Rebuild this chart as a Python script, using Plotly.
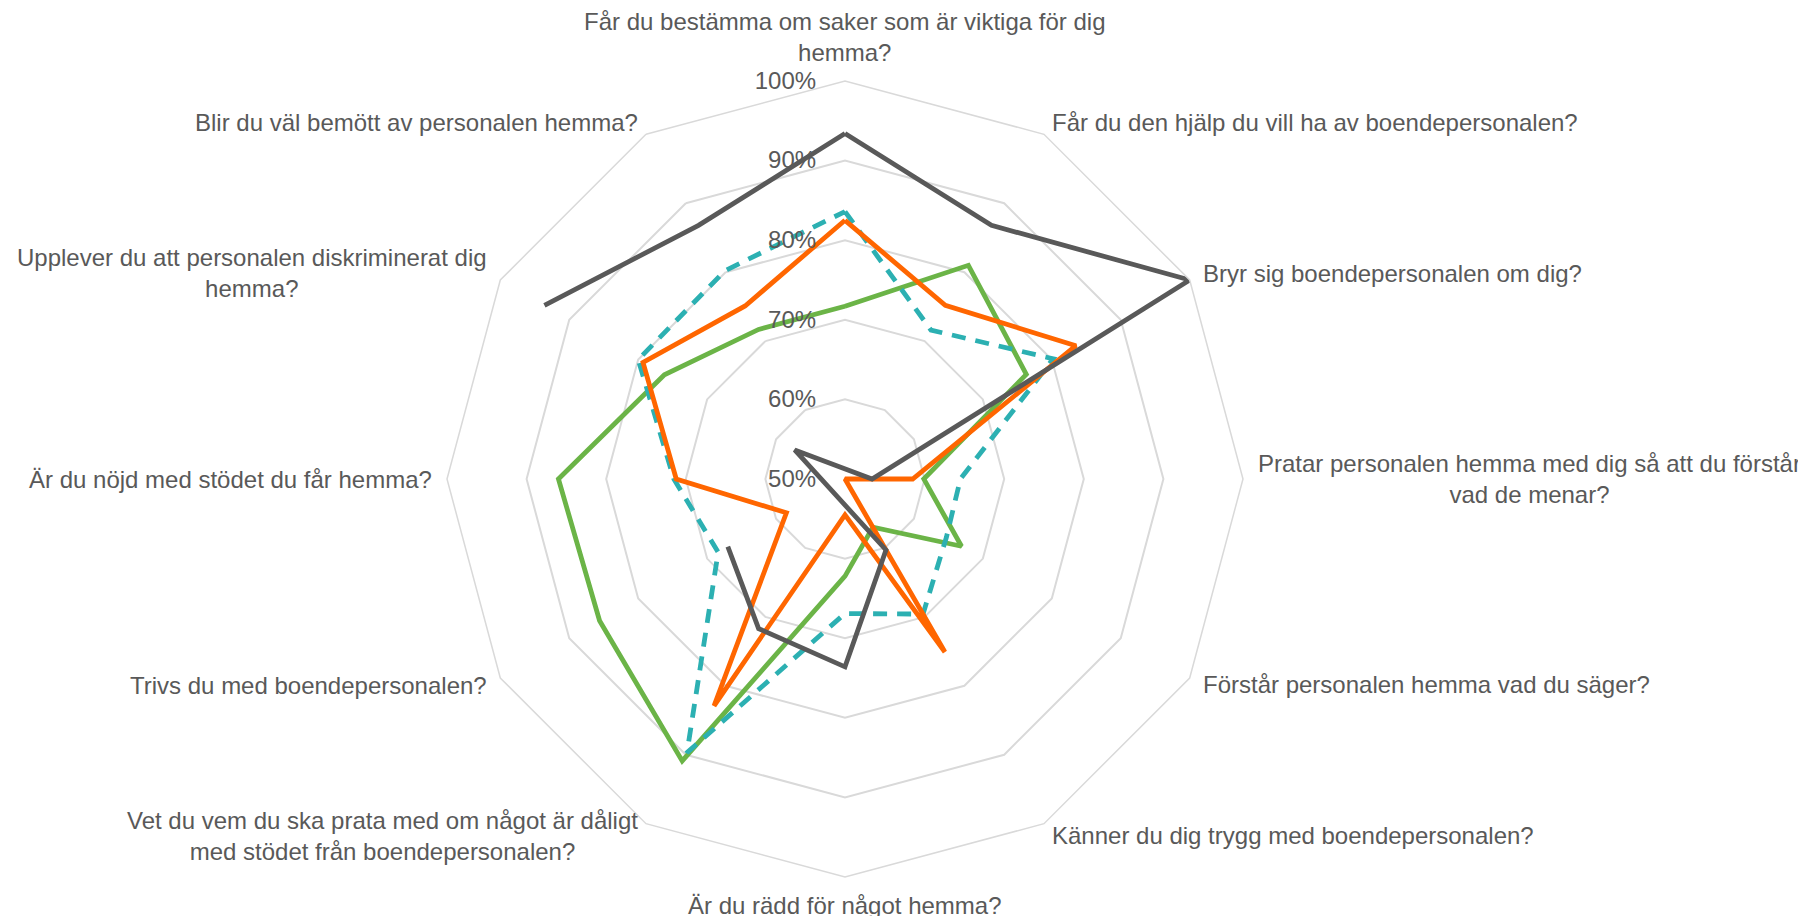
import math
import plotly.graph_objects as go

# ---- data -------------------------------------------------------------
categories = [
    "Får du bestämma om saker som är viktiga för dig hemma?",
    "Får du den hjälp du vill ha av boendepersonalen?",
    "Bryr sig boendepersonalen om dig?",
    "Pratar personalen hemma med dig så att du förstår vad de menar?",
    "Förstår personalen hemma vad du säger?",
    "Känner du dig trygg med boendepersonalen?",
    "Är du rädd för något hemma?",
    "Vet du vem du ska prata med om något är dåligt med stödet från boendepersonalen?",
    "Trivs du med boendepersonalen?",
    "Är du nöjd med stödet du får hemma?",
    "Upplever du att personalen diskriminerat dig hemma?",
    "Blir du väl bemött av personalen hemma?",
]

# the category labels as wrapped in the original
category_labels = [
    "Får du bestämma om saker som är viktiga för dig<br>hemma?",
    "Får du den hjälp du vill ha av boendepersonalen?",
    "Bryr sig boendepersonalen om dig?",
    "Pratar personalen hemma med dig så att du förstår<br>vad de menar?",
    "Förstår personalen hemma vad du säger?",
    "Känner du dig trygg med boendepersonalen?",
    "Är du rädd för något hemma?",
    "Vet du vem du ska prata med om något är dåligt<br>med stödet från boendepersonalen?",
    "Trivs du med boendepersonalen?",
    "Är du nöjd med stödet du får hemma?",
    "Upplever du att personalen diskriminerat dig<br>hemma?",
    "Blir du väl bemött av personalen hemma?",
]

radial_ticks = [50, 60, 70, 80, 90, 100]

# values in percent, clockwise from the top category
green = [71.7, 81.0, 76.3, 59.9, 66.9, 57.0, 62.2, 90.9, 85.6, 86.0, 76.2, 71.7]
teal = [83.6, 71.6, 80.2, 64.5, 64.7, 69.6, 66.9, 89.7, 68.4, 71.5, 80.0, 80.2]
orange = [82.5, 75.2, 83.5, 58.5, 50.0, 75.1, 54.5, 82.9, 58.5, 71.2, 79.3, 75.1]
gray = [93.4, 86.8, 100.0, 53.4, 42.7, 60.3, 73.6, 71.7, 67.0, None, 93.6, 86.8]

AXIS_MIN = 50
AXIS_MAX = 100


def radar_path(values):
    """Closed path; values below the axis minimum are drawn through the
    centre on the opposite spoke (as the original spreadsheet radar does)."""
    n = len(categories)
    thetas, rs = [], []
    for i, v in enumerate(values + values[:1]):
        i = i % n
        if v is None:
            thetas.append(categories[i])
            rs.append(None)
        elif v < AXIS_MIN:
            thetas.append(categories[(i + n // 2) % n])
            rs.append(2 * AXIS_MIN - v)
        else:
            thetas.append(categories[i])
            rs.append(v)
    return thetas, rs


series = [
    ("green", green, "#6BB447", None),
    ("teal", teal, "#2CB0B2", "14px,10px"),
    ("orange", orange, "#FF6600", None),
    ("gray", gray, "#595959", None),
]

fig = go.Figure()
for name, vals, color, dash in series:
    th, r = radar_path(vals)
    line = dict(color=color, width=4.8)
    if dash:
        line["dash"] = dash
    fig.add_trace(go.Scatterpolar(
        r=r, theta=th, mode="lines", name=name, line=line,
        connectgaps=False, hoverinfo="skip",
    ))

W, H = 1806, 916
cx, cy, R = 837, 471, 398
LABEL_GAP = 14
TEXT = "#595959"

# category labels placed just outside each spoke end, aligned like the original
annotations = []
n = len(categories)
for i, label in enumerate(category_labels):
    ang = math.radians(360.0 * i / n)
    s, c = math.sin(ang), math.cos(ang)
    px = cx + (R + LABEL_GAP) * s
    py = cy - (R + LABEL_GAP) * c
    xanchor = "left" if s > 0.1 else ("right" if s < -0.1 else "center")
    if c > 0.99:
        yanchor = "bottom"
    elif c < -0.99:
        yanchor = "top"
    else:
        yanchor = "middle"
    annotations.append(dict(
        text=label, x=px / W, y=1 - py / H, xref="paper", yref="paper",
        xanchor=xanchor, yanchor=yanchor, align="center", showarrow=False,
        font=dict(size=24, color=TEXT), borderpad=0,
    ))

fig.update_layout(
    width=W, height=H,
    margin=dict(l=0, r=0, t=0, b=0),
    paper_bgcolor="white",
    showlegend=False,
    font=dict(family="Liberation Sans, Arial, sans-serif", color=TEXT, size=24),
    annotations=annotations,
    polar=dict(
        domain=dict(x=[(cx - R) / W, (cx + R) / W], y=[(H - cy - R) / H, (H - cy + R) / H]),
        bgcolor="white",
        gridshape="linear",
        angularaxis=dict(
            type="category",
            categoryorder="array",
            categoryarray=categories,
            rotation=90,
            direction="clockwise",
            showgrid=False,
            showline=True,
            linecolor="#D9D9D9",
            linewidth=1.5,
            ticks="",
            showticklabels=False,
        ),
        radialaxis=dict(
            range=[AXIS_MIN, AXIS_MAX],
            tickmode="array",
            tickvals=radial_ticks,
            ticktext=[f"{v}%" for v in radial_ticks],
            angle=90,
            tickangle=90,
            side="counterclockwise",
            showline=False,
            gridcolor="#D9D9D9",
            gridwidth=1.5,
            ticks="outside",
            ticklen=20,
            tickcolor="rgba(0,0,0,0)",
            tickfont=dict(size=24, color=TEXT),
        ),
    ),
)

fig.write_html("out.html")
